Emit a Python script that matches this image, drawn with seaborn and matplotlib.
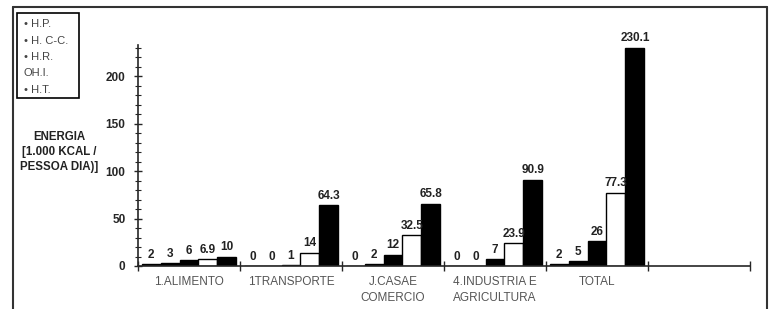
import numpy as np
import pandas as pd
import matplotlib
matplotlib.use("Agg")
import matplotlib.pyplot as plt
from matplotlib.patches import Rectangle
from matplotlib.ticker import MultipleLocator
import seaborn as sns

# Data
categories = ["1.ALIMENTO", "1TRANSPORTE", "J.CASAE\nCOMERCIO",
              "4.INDUSTRIA E\nAGRICULTURA", "TOTAL"]
series = ["H.P.", "H. C-C.", "H.R.", "OH.I.", "H.T."]
hp = [2, 0, 0, 0, 2]
hcc = [3, 0, 2, 0, 5]
hr = [6, 1, 12, 7, 26]
ohi = [6.9, 14, 32.5, 23.9, 77.3]
ht = [10, 64.3, 65.8, 90.9, 230.1]
value_labels = [["2", "0", "0", "0", "2"],
                ["3", "0", "2", "0", "5"],
                ["6", "1", "12", "7", "26"],
                ["6.9", "14", "32.5", "23.9", "77.3"],
                ["10", "64.3", "65.8", "90.9", "230.1"]]
legend_lines = ["• H.P.", "• H. C-C.", "• H.R.", "OH.I.", "• H.T."]

df = pd.DataFrame({
    "cat": categories * 5,
    "serie": np.repeat(series, 5),
    "val": hp + hcc + hr + ohi + ht,
})

sns.set_style("white")
plt.rcParams["font.family"] = ["Liberation Sans", "DejaVu Sans"]

fig = plt.figure(figsize=(7.73, 3.09), dpi=100)
ax = fig.add_axes([138 / 773, 1 - 266 / 309, (750 - 138) / 773, (266 - 45) / 309])

colors = ["black", "black", "black", "white", "black"]
sns.barplot(data=df, x="cat", y="val", hue="serie", order=categories,
            hue_order=series, palette=colors, width=0.93, edgecolor="black",
            linewidth=1, legend=False, ax=ax)

# value labels above the bars
for cont, labs in zip(ax.containers, value_labels):
    for bar, lab in zip(cont, labs):
        x = bar.get_x() + bar.get_width() / 2
        ax.text(x, bar.get_height() + 3.5, lab, ha="center", va="bottom",
                fontsize=8.5, fontweight="bold", color="#222222")

ax.set_xlim(-0.5, 5.5)
ax.set_ylim(0, 233)
ax.set_xlabel("")
ax.set_ylabel("")
for s in ["top", "right"]:
    ax.spines[s].set_visible(False)
ax.spines["left"].set_linewidth(1.2)
ax.spines["bottom"].set_linewidth(1.2)

ax.yaxis.set_major_locator(MultipleLocator(50))
ax.yaxis.set_minor_locator(MultipleLocator(10))
ax.tick_params(axis="y", which="major", direction="inout", length=6, width=1,
               labelsize=8.5, pad=6, left=True)
ax.tick_params(axis="y", which="minor", direction="inout", length=4, width=0.8, left=True)
for t in ax.get_yticklabels():
    t.set_fontweight("bold")

# x ticks at slot boundaries, labels centred on the groups
ax.set_xticks(np.arange(-0.5, 6, 1))
ax.set_xticklabels([""] * 7)
ax.tick_params(axis="x", which="major", direction="inout", length=7, width=1, bottom=True)
for i, c in enumerate(categories):
    ax.text(i, -11, c, ha="center", va="top", fontsize=8.5, color="#555555",
            linespacing=1.35)

# y axis title
fig.text(59 / 773, 1 - 152 / 309, "ENERGIA\n[1.000 KCAL /\nPESSOA DIA)]",
         ha="center", va="center", fontsize=8.3, fontweight="bold",
         linespacing=1.3, color="#222222")

# legend box
fig.patches.append(Rectangle((17 / 773, 1 - 98 / 309), 62 / 773, 85 / 309,
                             transform=fig.transFigure, fill=False,
                             edgecolor="black", linewidth=1.2))
for k, line in enumerate(legend_lines):
    fig.text(24 / 773, 1 - (24 + k * 16.5) / 309, line, ha="left", va="center",
             fontsize=8, color="#444444")

# outer frame
fig.add_artist(plt.Line2D([13 / 773, 13 / 773], [0, 1 - 7 / 309],
                          transform=fig.transFigure, color="#333333", lw=1.5))
fig.add_artist(plt.Line2D([13 / 773, 767 / 773], [1 - 7 / 309, 1 - 7 / 309],
                          transform=fig.transFigure, color="#333333", lw=1.5))
fig.add_artist(plt.Line2D([767 / 773, 767 / 773], [0, 1 - 7 / 309],
                          transform=fig.transFigure, color="#333333", lw=1.5))

fig.savefig("out.png", dpi=100)
